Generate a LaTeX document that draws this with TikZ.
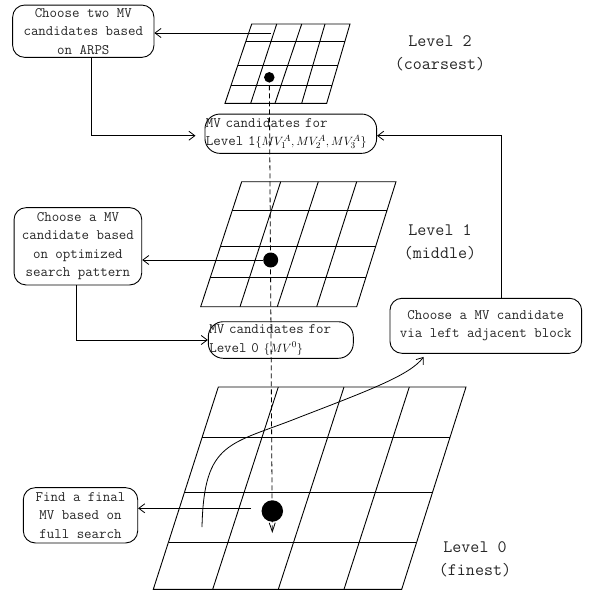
\documentclass[tikz,border=0pt]{standalone}
\usepackage{fontspec}
\usetikzlibrary{arrows.meta,calc}
\newcommand{\mvset}[1]{{\color{black}\fontsize{12.5}{14}\selectfont$\{#1\}$}}
\begin{document}
\begin{tikzpicture}[x=1pt,y=-1pt,
  gridline/.style={line width=0.9pt},
  box/.style={draw, rounded corners=12pt, line width=0.9pt, text=black!85,
    font=\ttfamily\fontsize{14.5}{18.5}\selectfont, align=center, inner sep=0pt},
  mvbox/.style={box, align=left, rounded corners=15pt, inner xsep=1pt},
  arr/.style={line width=0.8pt, -{Straight Barb[length=6pt,width=9pt]}},
  dashline/.style={line width=0.8pt, dash pattern=on 5pt off 3pt,
    -{Straight Barb[length=9pt,width=6pt]}},
  dot/.style={circle, fill=black, inner sep=0pt},
  lvl/.style={font=\ttfamily\fontsize{17.5}{23.5}\selectfont, text=black!85, align=center}]
\useasboundingbox (0,0) rectangle (589,592);

% ---- Level 2 grid ----
\coordinate (g2tl) at (251.7,24);  \coordinate (g2tr) at (350,24);
\coordinate (g2bl) at (225,103.3); \coordinate (g2br) at (326.7,103.3);
\draw[gridline] (g2tl) -- (g2tr) -- (g2br) -- (g2bl) -- cycle;
\foreach \t in {0.223,0.526,0.778}
  \draw[gridline] ($(g2tl)!\t!(g2bl)$) -- ($(g2tr)!\t!(g2br)$);
\foreach \a/\b in {276.7/250.7, 301.7/275, 325/301.7}
  \draw[gridline] (\a,24) -- (\b,103.3);

% ---- Level 1 grid ----
\coordinate (g1tl) at (241.7,181.7); \coordinate (g1tr) at (396,181.7);
\coordinate (g1bl) at (200.7,306.7); \coordinate (g1br) at (356.7,306.7);
\draw[gridline] (g1tl) -- (g1tr) -- (g1br) -- (g1bl) -- cycle;
\foreach \t in {0.226,0.52,0.768}
  \draw[gridline] ($(g1tl)!\t!(g1bl)$) -- ($(g1tr)!\t!(g1br)$);
\foreach \a/\b in {280.7/240, 318.3/277.3, 356.7/316.7}
  \draw[gridline] (\a,181.7) -- (\b,306.7);

% ---- Level 0 grid ----
\coordinate (g0tl) at (218.3,387);   \coordinate (g0tr) at (466,387);
\coordinate (g0bl) at (153.3,589.3); \coordinate (g0br) at (401.7,589.3);
\draw[gridline] (g0tl) -- (g0tr) -- (g0br) -- (g0bl) -- cycle;
\foreach \t in {0.247,0.522,0.766}
  \draw[gridline] ($(g0tl)!\t!(g0bl)$) -- ($(g0tr)!\t!(g0br)$);
\foreach \a/\b in {278.3/212.7, 344/278.3, 409.3/344}
  \draw[gridline] (\a,387) -- (\b,589.3);

% ---- level labels ----
\node[lvl] (lab2) at (440,53.3) {Level 2\\(coarsest)};
\node[lvl] (lab1) at (440,242.5) {Level 1\\(middle)};
\node[lvl] (lab0) at (475,559.3) {Level 0\\(finest)};

% ---- boxes ----
\node[box, minimum width=141.3pt, minimum height=52.3pt] (b1) at (83.3,31.2)
  {Choose two MV\\candidates based\\on ARPS};
\node[box, minimum width=127.7pt, minimum height=77.3pt] (b2) at (77.9,246.3)
  {Choose a MV\\candidate based\\on optimized\\search pattern};
\node[box, minimum width=191.7pt, minimum height=55pt] (b3) at (485.8,325.8)
  {Choose a MV candidate\\via left adjacent block};
\node[box, minimum width=114.4pt, minimum height=55.3pt] (b4) at (80.5,515.3)
  {Find a final\\MV based on\\full search};
\node[mvbox, text width=169.7pt, minimum height=39.3pt] (mv1) at (290.8,133.7)
  {MV candidates for\\\mbox{Level 1\mvset{MV_1^A,MV_2^A,MV_3^A}}};
\node[mvbox, text width=143pt, minimum height=36.6pt] (mv0) at (280.8,340)
  {MV candidates for\\\mbox{Level 0 \mvset{MV^0}}};

% ---- dashed projection through the levels ----
\coordinate (d2c) at (269.3,77.3);
\coordinate (dend) at (272.3,533);
\draw[dashline] (d2c) -- (dend);
\node[dot, minimum size=10.5pt] (d2) at (d2c) {};
\node[dot, minimum size=15pt] (d1) at (270.7,260) {};
\node[dot, minimum size=21.5pt] (d0) at (272.3,511) {};

% ---- connectors ----
\coordinate (s2) at (271,33);
\draw[arr] (s2) -- (s2 -| b1.east);
\draw[arr] ([xshift=7.7pt]b1.south) |- ([xshift=-9pt,yshift=-2pt]mv1.west);
\draw[arr] (d1.west) -- (d1.west -| b2.east);
\draw[arr] ([xshift=-2pt]b2.south) |- (mv0.west);
\draw[arr] ([xshift=15.9pt]b3.north) |- ([yshift=-2pt]mv1.east);
\coordinate (s0) at (251,508.3);
\draw[arr] (s0) -- (s0 -| b4.east);
\coordinate (c0) at (202,527);
\draw[arr, shorten >=4pt] (c0) .. controls (204,440) and (230,445) .. (300,417)
  .. controls (370,390) and (410,375) .. ([xshift=-59.8pt]b3.south);
\end{tikzpicture}
\end{document}
